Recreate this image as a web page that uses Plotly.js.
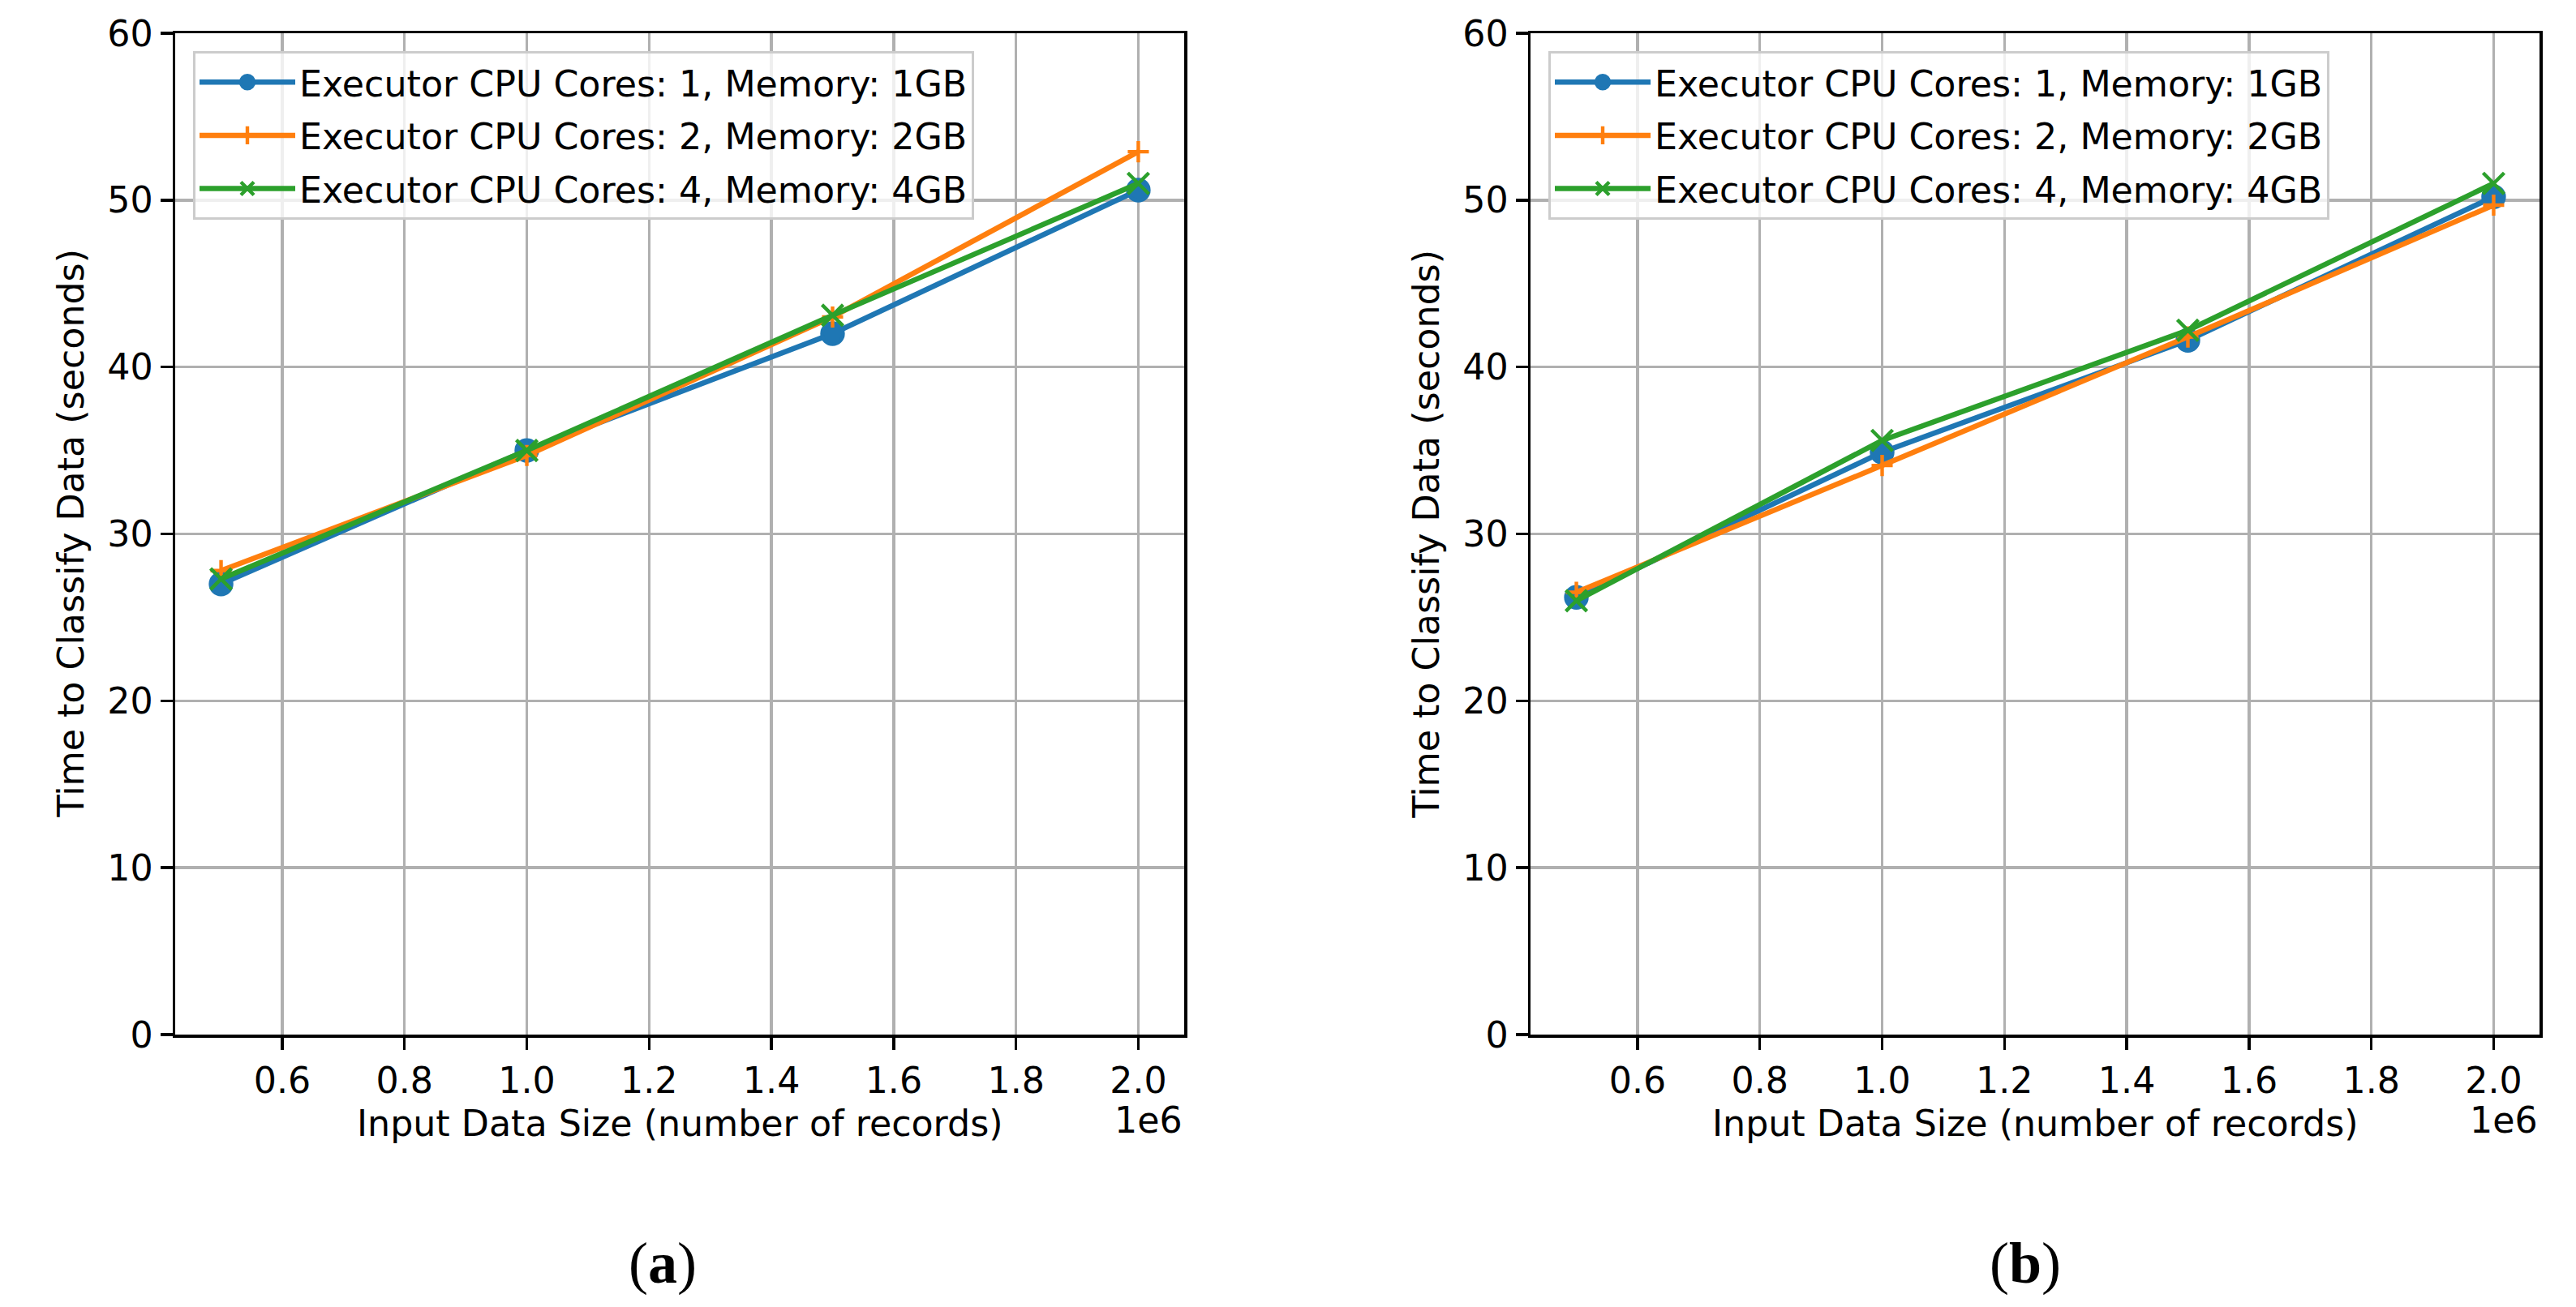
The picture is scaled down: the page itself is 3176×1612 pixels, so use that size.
<!DOCTYPE html>
<html>
<head>
<meta charset="utf-8">
<script src="https://cdn.plot.ly/plotly-3.0.1.min.js"></script>
<style>html,body{margin:0;padding:0;background:#fff;}#chart{width:3176px;height:1612px;}</style>
</head>
<body>
<div id="chart"></div>
<script>
// ---- data ----
const xRecords = [500000, 1000000, 1500000, 2000000];
const seriesNames = [
  'Executor CPU Cores: 1, Memory: 1GB',
  'Executor CPU Cores: 2, Memory: 2GB',
  'Executor CPU Cores: 4, Memory: 4GB'
];
// panel (a)
const a_cores1 = [27.0, 35.0, 42.0, 50.6];
const a_cores2 = [27.8, 34.7, 43.0, 52.9];
const a_cores4 = [27.3, 35.0, 43.1, 51.0];
// panel (b)
const b_cores1 = [26.2, 34.9, 41.6, 50.2];
const b_cores2 = [26.5, 34.1, 41.8, 49.7];
const b_cores4 = [26.0, 35.6, 42.2, 51.0];

const xTickVals = [600000, 800000, 1000000, 1200000, 1400000, 1600000, 1800000, 2000000];
const xTickText = ['0.6', '0.8', '1.0', '1.2', '1.4', '1.6', '1.8', '2.0'];
const yTickVals = [0, 10, 20, 30, 40, 50, 60];
const xTitle = 'Input Data Size (number of records)';
const yTitle = 'Time to Classify Data (seconds)';
const offsetText = '1e6';
const captions = ['(<b>a</b>)', '(<b>b</b>)'];

// ---- styling ----
const W = 3176, H = 1612;
const colors = ['#1f77b4', '#ff7f0e', '#2ca02c'];
const symbols = ['circle', 'cross-thin', 'x-thin'];
const msize = [26, 18.6, 26];
const FONT = 'DejaVu Sans, Verdana, sans-serif';
const FS = 44.3;

function px(x) { return x / W; }
function py(y) { return (H - y) / H; }

const axesA = {l: 216, r: 1460};
const axesB = {l: 1887, r: 3131};
const axTop = 41, axBot = 1276;

function mkTrace(y, i, xa, ya, leg, p) {
  return {
    type: 'scatter', mode: 'lines+markers',
    x: xRecords, y: y, name: seriesNames[i],
    xaxis: xa, yaxis: ya, legend: leg, legendgroup: p + i,
    line: {color: colors[i], width: 6.5},
    marker: {symbol: symbols[i], size: msize[i], color: colors[i],
             line: {color: colors[i], width: 4.4}}
  };
}

const data = [
  mkTrace(a_cores1, 0, 'x', 'y', 'legend', 'a'),
  mkTrace(a_cores2, 1, 'x', 'y', 'legend', 'a'),
  mkTrace(a_cores4, 2, 'x', 'y', 'legend', 'a'),
  mkTrace(b_cores1, 0, 'x2', 'y2', 'legend2', 'b'),
  mkTrace(b_cores2, 1, 'x2', 'y2', 'legend2', 'b'),
  mkTrace(b_cores4, 2, 'x2', 'y2', 'legend2', 'b')
];

function xAxis(dom, anchor) {
  return {
    domain: dom, anchor: anchor, range: [425000, 2075000],
    tickmode: 'array', tickvals: xTickVals, ticktext: xTickText,
    showgrid: true, gridcolor: '#b0b0b0', gridwidth: 3.5,
    showline: true, mirror: true, linecolor: '#000', linewidth: 3.5,
    ticks: 'outside', ticklen: 15, tickwidth: 3.5, tickcolor: '#000',
    tickfont: {family: FONT, size: FS, color: '#000'},
    zeroline: false, fixedrange: true
  };
}
function yAxis(anchor) {
  return {
    domain: [py(axBot), py(axTop)], anchor: anchor, range: [0, 60],
    tickmode: 'array', tickvals: yTickVals,
    showgrid: true, gridcolor: '#b0b0b0', gridwidth: 3.5,
    showline: true, mirror: true, linecolor: '#000', linewidth: 3.5,
    ticks: 'outside', ticklen: 15, tickwidth: 3.5, tickcolor: '#000',
    tickfont: {family: FONT, size: FS, color: '#000'},
    zeroline: false, fixedrange: true
  };
}
function legend(xpx) {
  return {
    x: px(xpx), y: py(63), xanchor: 'left', yanchor: 'top',
    bgcolor: 'rgba(255,255,255,0.8)', bordercolor: '#cccccc', borderwidth: 3,
    font: {family: FONT, size: FS, color: '#000'},
    itemwidth: 118, traceorder: 'grouped', tracegroupgap: 5
  };
}

const annotations = [];
[[axesA, 0], [axesB, 1]].forEach(([ax, k]) => {
  const cx = (ax.l + ax.r) / 2;
  annotations.push({xref: 'paper', yref: 'paper', x: px(cx), y: py(1385),
    xanchor: 'center', yanchor: 'middle', showarrow: false, text: xTitle,
    font: {family: FONT, size: FS, color: '#000'}});
  annotations.push({xref: 'paper', yref: 'paper', x: px(ax.l - 129), y: py((axTop + axBot) / 2),
    xanchor: 'center', yanchor: 'middle', showarrow: false, text: yTitle, textangle: -90,
    font: {family: FONT, size: FS, color: '#000'}});
  annotations.push({xref: 'paper', yref: 'paper', x: px(ax.r), y: py(1381),
    xanchor: 'right', yanchor: 'middle', showarrow: false, text: offsetText,
    font: {family: FONT, size: FS, color: '#000'}});
  annotations.push({xref: 'paper', yref: 'paper', x: px(k === 0 ? 817 : 2497), y: py(1558),
    xanchor: 'center', yanchor: 'middle', showarrow: false, text: captions[k],
    font: {family: 'Liberation Serif, Times New Roman, serif', size: 72, color: '#000'}});
});

const layout = {
  width: W, height: H,
  margin: {l: 0, r: 0, t: 0, b: 0, pad: 0},
  paper_bgcolor: '#fff', plot_bgcolor: '#fff',
  showlegend: true,
  xaxis: xAxis([px(axesA.l), px(axesA.r)], 'y'),
  yaxis: yAxis('x'),
  xaxis2: xAxis([px(axesB.l), px(axesB.r)], 'y2'),
  yaxis2: yAxis('x2'),
  legend: legend(238),
  legend2: legend(1909),
  annotations: annotations
};

Plotly.newPlot('chart', data, layout, {displayModeBar: false, staticPlot: true});
</script>
</body>
</html>
